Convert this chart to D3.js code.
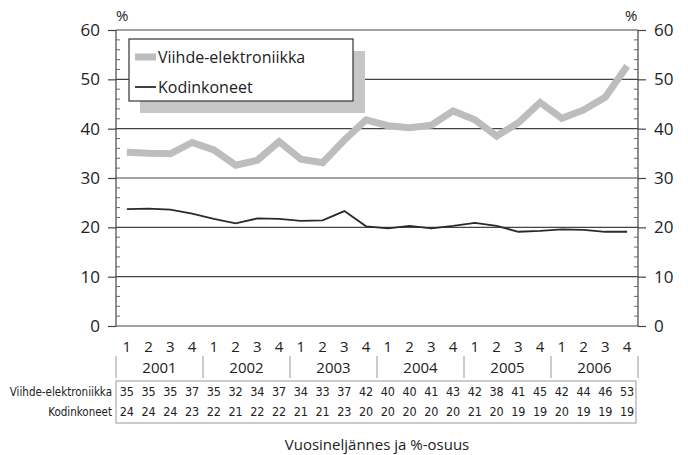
<!DOCTYPE html>
<html><head><meta charset="utf-8">
<script src="https://cdn.jsdelivr.net/npm/d3@7"></script>
<style>
body{margin:0;background:#fff;}
text{font-family:"Open Sans",sans-serif;fill:#222;}
.nar{font-family:"Liberation Sans Narrow","DejaVu Sans Condensed","Open Sans",sans-serif;}
</style></head>
<body><svg id="c" width="688" height="455"></svg>
<script>
const years = ["2001","2002","2003","2004","2005","2006"];
const quarters = ["1","2","3","4"];
const seriesNames = ["Viihde-elektroniikka","Kodinkoneet"];
const viihde = [35.2,35.0,34.9,37.2,35.7,32.6,33.6,37.4,33.8,33.1,37.7,41.8,40.6,40.2,40.7,43.6,41.8,38.5,41.2,45.3,42.1,43.8,46.4,52.7];
const kodin = [23.7,23.8,23.6,22.8,21.7,20.8,21.8,21.7,21.3,21.4,23.3,20.2,19.8,20.3,19.8,20.3,20.9,20.3,19.1,19.3,19.6,19.5,19.1,19.1];
const tableViihde = [35,35,35,37,35,32,34,37,34,33,37,42,40,40,41,43,42,38,41,45,42,44,46,53];
const tableKodin = [24,24,24,23,22,21,22,22,21,21,23,20,20,20,20,20,21,20,19,19,20,19,19,19];
const yTicks = [0,10,20,30,40,50,60];
const xTitle = "Vuosineljännes ja %-osuus";

const svg = d3.select("#c");
const L=116, R=638, T=30, B=326;
const keys = [];
years.forEach(y=>quarters.forEach(q=>keys.push(y+"-"+q)));
const x = d3.scaleBand().domain(keys).range([L,R]);
const y = d3.scaleLinear().domain([0,60]).range([B,T]);
const cx = k => x(k)+x.bandwidth()/2;

// gridlines
svg.append("g").selectAll("line").data(yTicks).join("line")
  .attr("x1",L).attr("x2",R).attr("y1",d=>y(d)).attr("y2",d=>y(d))
  .attr("stroke","#444").attr("stroke-width",1.2);

// left axis
const minor = d3.range(0,61,2).filter(d=>d%10!==0);
const gl = svg.append("g").attr("transform",`translate(${L},0)`);
gl.call(d3.axisLeft(y).tickValues(yTicks).tickSize(8).tickPadding(8).tickFormat(d3.format("d")));
gl.selectAll("text").style("font-size","17px").attr("fill","#222");
gl.selectAll("path,line").attr("stroke","#444").attr("stroke-width",1.2);
gl.select(".domain").attr("d",`M0,${T}V${B}`);
gl.append("g").selectAll("line").data(minor).join("line")
  .attr("x1",0).attr("x2",4).attr("y1",d=>y(d)).attr("y2",d=>y(d)).attr("stroke","#666");

const gr = svg.append("g").attr("transform",`translate(${R},0)`);
gr.call(d3.axisRight(y).tickValues(yTicks).tickSize(8).tickPadding(8).tickFormat(d3.format("d")));
gr.selectAll("text").style("font-size","17px").attr("fill","#222");
gr.selectAll("path,line").attr("stroke","#444").attr("stroke-width",1.2);
gr.select(".domain").attr("d",`M0,${T}V${B}`);
gr.append("g").selectAll("line").data(minor).join("line")
  .attr("x1",0).attr("x2",-4).attr("y1",d=>y(d)).attr("y2",d=>y(d)).attr("stroke","#666");

svg.append("text").attr("x",L).attr("y",21).text("%").style("font-size","15px");
svg.append("text").attr("x",R-13).attr("y",21).text("%").style("font-size","15px");

// lines
const line = d3.line().x((d,i)=>cx(keys[i])).y(d=>y(d));
svg.append("path").datum(viihde).attr("d",line).attr("fill","none")
  .attr("stroke","#bdbdbd").attr("stroke-width",7).attr("stroke-linejoin","miter");
svg.append("path").datum(kodin).attr("d",line).attr("fill","none")
  .attr("stroke","#2a2a2a").attr("stroke-width",1.8);

// legend
const lg = svg.append("g");
lg.append("rect").attr("x",140).attr("y",51).attr("width",225).attr("height",62).attr("fill","#c6c6c6");
lg.append("rect").attr("x",129).attr("y",39).attr("width",224).attr("height",62).attr("fill","#fff").attr("stroke","#333").attr("stroke-width",1.2);
lg.append("line").attr("x1",135).attr("x2",156).attr("y1",57).attr("y2",57).attr("stroke","#bdbdbd").attr("stroke-width",7);
lg.append("line").attr("x1",135).attr("x2",156).attr("y1",87).attr("y2",87).attr("stroke","#2a2a2a").attr("stroke-width",1.8);
lg.append("text").attr("x",158).attr("y",63).text(seriesNames[0]).style("font-size","16px");
lg.append("text").attr("x",158).attr("y",93).text(seriesNames[1]).style("font-size","16px");

// quarter labels
svg.append("g").selectAll("text").data(keys).join("text")
  .attr("x",d=>cx(d)).attr("y",352).attr("text-anchor","middle")
  .text(d=>d.split("-")[1]).style("font-size","15px");
// year separators
const bounds = years.map(yy=>x(yy+"-1")).concat([R]);
svg.append("g").selectAll("line").data(bounds).join("line")
  .attr("x1",d=>d).attr("x2",d=>d).attr("y1",356).attr("y2",378).attr("stroke","#999");
svg.append("g").selectAll("text").data(years).join("text")
  .attr("x",d=>(x(d+"-1")+x(d+"-4")+x.bandwidth())/2).attr("y",373).attr("text-anchor","middle")
  .text(d=>d).style("font-size","15px");

// table
svg.append("rect").attr("x",L).attr("y",381).attr("width",R-L-2).attr("height",42)
  .attr("fill","none").attr("stroke","#999");
const rows = [[seriesNames[0],tableViihde,396],[seriesNames[1],tableKodin,416]];
rows.forEach(r=>{
  svg.append("text").attr("class","nar").attr("x",L-4).attr("y",r[2]).attr("text-anchor","end")
    .text(r[0]).style("font-size","11.5px");
  svg.append("g").selectAll("text").data(r[1]).join("text").attr("class","nar")
    .attr("x",(d,i)=>cx(keys[i])).attr("y",r[2]).attr("text-anchor","middle")
    .text(d=>d).style("font-size","12.5px");
});

svg.append("text").attr("x",(L+R)/2).attr("y",450).attr("text-anchor","middle")
  .text(xTitle).style("font-size","15px");
</script></body></html>
